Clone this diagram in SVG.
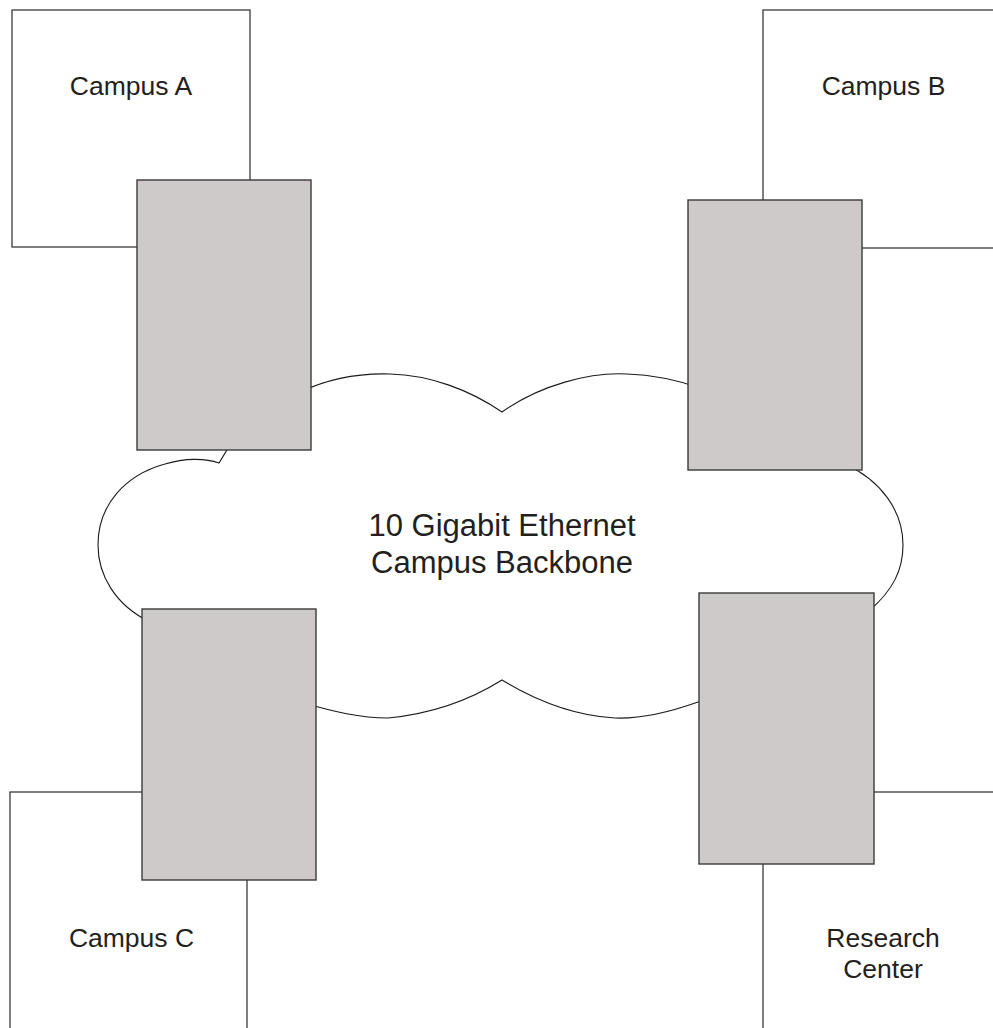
<svg xmlns="http://www.w3.org/2000/svg" width="993" height="1028" viewBox="0 0 993 1028">
<style>
.site{fill:none;stroke:#3a3a3a;stroke-width:1.3}
.router{fill:#cfcaca;stroke:#3a3a3a;stroke-width:1.4}
.cloud{fill:none;stroke:#1a1a1a;stroke-width:1.1}
.lbl{font-family:"Liberation Sans",Arial,sans-serif;font-size:26.5px;fill:#231f20;text-anchor:middle}
.big{font-family:"Liberation Sans",Arial,sans-serif;font-size:31px;fill:#231f20;text-anchor:middle}
</style>
<rect width="993" height="1028" fill="#fff"/>
<g id="campus-a"><rect class="site" x="12" y="10" width="238" height="237"/><text class="lbl" x="131" y="95">Campus A</text></g>
<g id="campus-b"><rect class="site" x="763" y="10" width="250" height="238"/><text class="lbl" x="883.5" y="95">Campus B</text></g>
<g id="campus-c"><rect class="site" x="10" y="792" width="237" height="260"/><text class="lbl" x="131.5" y="947">Campus C</text></g>
<g id="research-center"><rect class="site" x="763" y="792" width="250" height="260"/><text class="lbl" x="883" y="947">Research</text><text class="lbl" x="883" y="978">Center</text></g>
<g id="backbone">
<path class="cloud" d="M 300 392 C 330 378, 360 373, 390 374 C 430 375, 470 390, 502 412 C 540 385, 590 372, 627 374 C 655 375, 680 381, 700 388 L 845 464 C 880 480, 903 510, 903 545 C 903 570, 893 590, 870 610 L 710 699 L 698 702 C 670 712, 640 719, 615 718 C 580 716, 540 703, 502 680 C 470 700, 430 714, 388 718 C 360 718, 335 712, 300 702 L 150 622 C 115 605, 98 575, 98 545 C 98 505, 125 475, 165 464 C 185 458, 205 458, 219 463 L 230 445 Z"/>
<text class="big" x="502" y="536">10 Gigabit Ethernet</text>
<text class="big" x="502" y="573">Campus Backbone</text>
</g>
<g id="router-a"><rect class="router" x="137" y="180" width="174" height="270"/></g>
<g id="router-b"><rect class="router" x="688" y="200" width="174" height="270"/></g>
<g id="router-c"><rect class="router" x="142" y="609" width="174" height="271"/></g>
<g id="router-d"><rect class="router" x="699" y="593" width="175" height="271"/></g>
</svg>
